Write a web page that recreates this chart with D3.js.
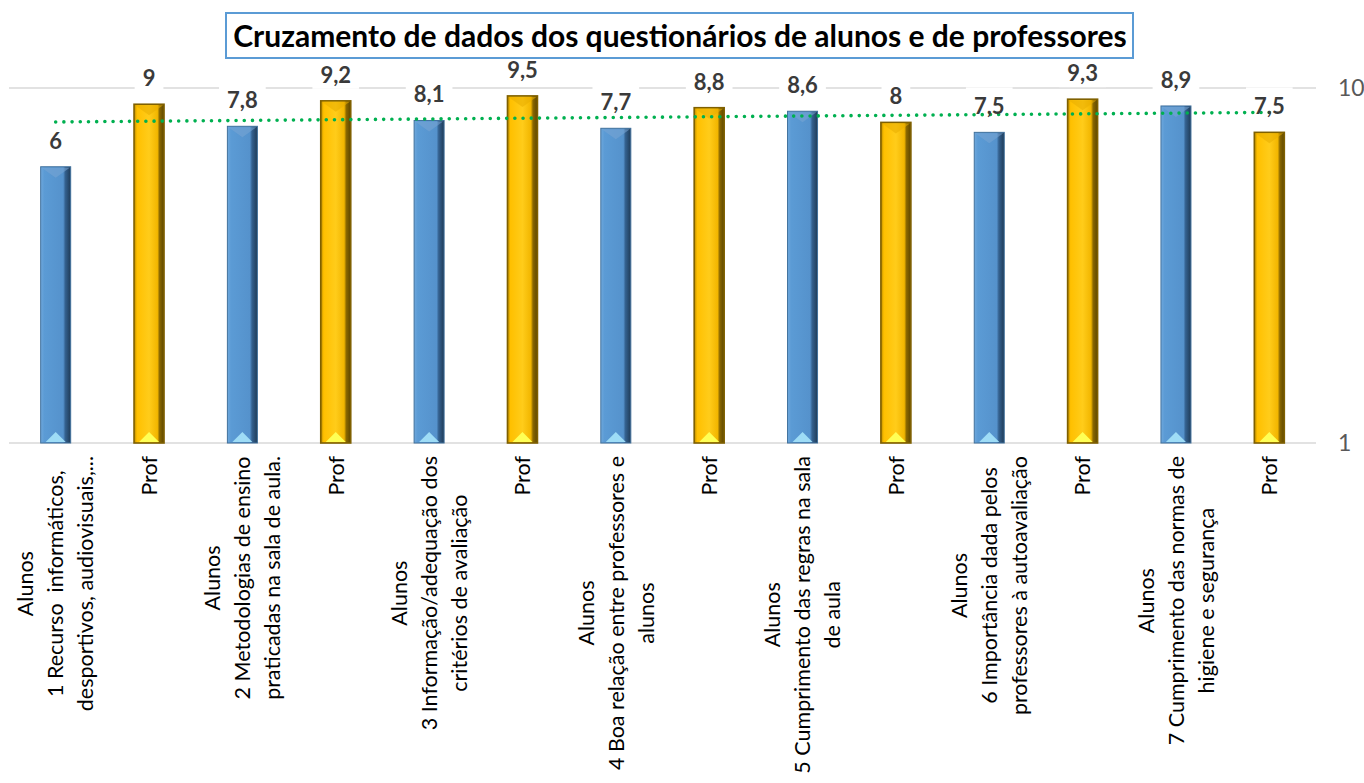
<!DOCTYPE html>
<html>
<head>
<meta charset="utf-8">
<script src="https://cdn.jsdelivr.net/npm/d3@7"></script>
<style>
  body { margin: 0; background: #fff; }
  svg { display: block; }
  text { font-family: Lato, "Open Sans", sans-serif; }
</style>
</head>
<body>
<svg id="chart" width="1364" height="783"></svg>
<script>
// data
const title = 'Cruzamento de dados dos questionários de alunos e de professores';
const categories = [
  ['Alunos', '1 Recurso  informáticos,', 'desportivos, audiovisuais,...'],
  ['Prof'],
  ['Alunos', '2 Metodologias de ensino', 'praticadas na sala de aula.'],
  ['Prof'],
  ['Alunos', '3 Informação/adequação dos', 'critérios de avaliação'],
  ['Prof'],
  ['Alunos', '4 Boa relação entre professores e', 'alunos'],
  ['Prof'],
  ['Alunos', '5 Cumprimento das regras na sala', 'de aula'],
  ['Prof'],
  ['Alunos', '6 Importância dada pelos', 'professores à autoavaliação'],
  ['Prof'],
  ['Alunos', '7 Cumprimento das normas de', 'higiene e segurança'],
  ['Prof']
];
const values = [6, 9, 7.8, 9.2, 8.1, 9.5, 7.7, 8.8, 8.6, 8, 7.5, 9.3, 8.9, 7.5];
const groups = ['Alunos', 'Prof', 'Alunos', 'Prof', 'Alunos', 'Prof', 'Alunos', 'Prof', 'Alunos', 'Prof', 'Alunos', 'Prof', 'Alunos', 'Prof'];
const yTicks = [1, 10];

const svg = d3.select('#chart');
const defs = svg.append('defs');

// scales
const x = d3.scaleBand().domain(d3.range(values.length)).range([9, 1316]);
const y = d3.scaleLog().domain([1, 10]).range([443, 88]);
const barW = 30;
const cx = i => x(i) + x.bandwidth() / 2;

// gradients for the bevelled bars
const grad = (id, stops) => {
  const g = defs.append('linearGradient').attr('id', id).attr('x1', 0).attr('x2', 1).attr('y1', 0).attr('y2', 0);
  stops.forEach(s => g.append('stop').attr('offset', s[0]).attr('stop-color', s[1]));
};
grad('gAlunos', [[0, '#6fa8dc'], [0.12, '#5b9bd5'], [0.75, '#5592cc'], [0.82, '#34618f'], [1, '#1f3b57']]);
grad('gProf', [[0, '#b88a00'], [0.1, '#ffc000'], [0.5, '#ffcc1a'], [0.78, '#f2b600'], [0.85, '#8a6800'], [1, '#5c4500']]);
const style = {
  Alunos: { fill: 'url(#gAlunos)', stroke: '#41719c', top: '#7aa6d3', bottom: '#9edcf6' },
  Prof: { fill: 'url(#gProf)', stroke: '#7f6000', top: '#e8ad00', bottom: '#ffff55' }
};

// gridlines
const grid = svg.append('g');
yTicks.forEach(t => {
  grid.append('line')
    .attr('x1', x.range()[0]).attr('x2', x.range()[1])
    .attr('y1', y(t)).attr('y2', y(t))
    .attr('stroke', '#d9d9d9').attr('stroke-width', 1.3);
});

// right axis
const axis = svg.append('g')
  .attr('transform', `translate(${x.range()[1]},0)`)
  .call(d3.axisRight(y).tickValues(yTicks).tickSize(0).tickPadding(22).tickFormat(d3.format('d')));
axis.select('.domain').remove();
axis.selectAll('text')
  .style('font-family', 'Lato, "Open Sans", sans-serif')
  .style('font-size', '23px')
  .attr('fill', '#595959');

// value labels (white boxes cut the gridline like in the original)
const fmt = v => String(v).replace('.', ',');
const labelBoxes = svg.append('g');

// bars
const bars = svg.append('g').selectAll('g')
  .data(values)
  .join('g');

bars.each(function (v, i) {
  const g = d3.select(this);
  const s = style[groups[i]];
  const x0 = cx(i) - barW / 2, x1 = cx(i) + barW / 2;
  const yt = y(v), yb = y(1);
  g.append('rect')
    .attr('x', x0).attr('y', yt)
    .attr('width', barW).attr('height', yb - yt)
    .attr('fill', s.fill)
    .attr('stroke', s.stroke).attr('stroke-width', groups[i] === 'Prof' ? 1.6 : 1);
  g.append('path')
    .attr('d', `M${x0 + 1},${yt + 1}L${x1 - 1},${yt + 1}L${cx(i)},${yt + 11}Z`)
    .attr('fill', s.top).attr('opacity', 0.55);
  g.append('path')
    .attr('d', `M${x0 + 5},${yb - 1}L${x1 - 5},${yb - 1}L${cx(i)},${yb - 11}Z`)
    .attr('fill', s.bottom);
});

// trendline (linear fit of the values, drawn on the log axis)
const n = values.length;
const xs = d3.range(1, n + 1);
const mx = d3.mean(xs), my = d3.mean(values);
const b = d3.sum(xs, (xi, k) => (xi - mx) * (values[k] - my)) / d3.sum(xs, xi => (xi - mx) ** 2);
const a = my - b * mx;
const step = x.step();
const trendPts = d3.range(0, n - 1 + 0.001, 0.25).map(t => [cx(0) + t * step, y(a + b * (t + 1))]);
svg.append('path')
  .attr('d', d3.line()(trendPts))
  .attr('fill', 'none')
  .attr('stroke', '#00b050')
  .attr('stroke-width', 3.6)
  .attr('stroke-linecap', 'round')
  .attr('stroke-dasharray', '0 8.2');

const labelTexts = svg.append('g');
values.forEach((v, i) => {
  const base = y(v) - 18;
  const t = labelTexts.append('text')
    .attr('x', cx(i)).attr('y', base)
    .attr('text-anchor', 'middle')
    .attr('font-size', '22px').attr('font-weight', 700)
    .attr('fill', '#3a3a3a')
    .text(fmt(v));
  const w = t.node().getComputedTextLength();
  labelBoxes.append('rect')
    .attr('x', cx(i) - w / 2 - 8).attr('y', base - 27)
    .attr('width', w + 16).attr('height', 33)
    .attr('fill', '#fff');
});

// category labels, rotated, lines centred on the longest one
const catTop = 456;
const cats = svg.append('g');
categories.forEach((lines, i) => {
  const g = cats.append('g').attr('transform', `translate(${cx(i)},${catTop}) rotate(-90)`);
  const texts = lines.map((l, k) => g.append('text')
    .attr('y', (k - (lines.length - 1) / 2) * 30)
    .attr('dy', '0.36em')
    .attr('text-anchor', 'middle')
    .attr('font-size', '21.5px')
    .attr('fill', '#000')
    .style('white-space', 'pre')
    .text(l));
  const maxW = d3.max(texts, t => t.node().getComputedTextLength());
  texts.forEach(t => t.attr('x', -maxW / 2));
});

// title
const tg = svg.append('g');
tg.append('rect')
  .attr('x', 226).attr('y', 13).attr('width', 907).attr('height', 45)
  .attr('fill', '#fff').attr('stroke', '#5b9bd5').attr('stroke-width', 2);
tg.append('text')
  .attr('x', 680).attr('y', 47)
  .attr('text-anchor', 'middle')
  .attr('font-size', '30px').attr('font-weight', 700)
  .attr('fill', '#000')
  .text(title);
</script>
</body>
</html>
